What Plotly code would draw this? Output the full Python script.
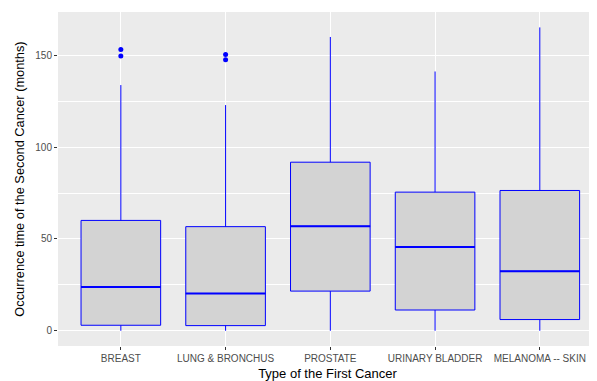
import plotly.graph_objects as go

categories = ["BREAST", "LUNG & BRONCHUS", "PROSTATE", "URINARY BLADDER", "MELANOMA -- SKIN"]
q1 = [3.0, 2.8, 21.6, 11.3, 6.1]
median = [23.9, 20.3, 56.9, 45.6, 32.4]
q3 = [60.1, 56.7, 91.8, 75.5, 76.4]
lower_whisker = [0, 0, 0, 0, 0]
upper_whisker = [133.8, 122.9, 160.0, 141.2, 165.2]
outlier_cat = ["BREAST", "BREAST", "LUNG & BRONCHUS", "LUNG & BRONCHUS"]
outlier_val = [153.2, 149.6, 150.5, 147.6]

pos = list(range(len(categories)))
box_w = 0.76

fig = go.Figure()
fig.add_trace(go.Box(
    x=pos, q1=q1, median=median, q3=q3,
    lowerfence=lower_whisker, upperfence=upper_whisker,
    fillcolor="#D3D3D3", line=dict(color="blue", width=1),
    width=box_w, whiskerwidth=0, boxpoints=False, showlegend=False, hoverinfo="skip",
))
# thicker median segments (ggplot style)
mx, my = [], []
for i, m in zip(pos, median):
    mx += [i - box_w / 2, i + box_w / 2, None]
    my += [m, m, None]
fig.add_trace(go.Scatter(x=mx, y=my, mode="lines", line=dict(color="blue", width=2),
                         showlegend=False, hoverinfo="skip"))
fig.add_trace(go.Scatter(
    x=[categories.index(c) for c in outlier_cat], y=outlier_val, mode="markers",
    marker=dict(color="blue", size=5), showlegend=False, hoverinfo="skip"))

font = "Liberation Sans, Arial, sans-serif"
fig.update_layout(
    width=589, height=373,
    margin=dict(l=50, r=0, t=4, b=35, autoexpand=False),
    paper_bgcolor="white", plot_bgcolor="#EBEBEB",
    font=dict(family=font),
    xaxis=dict(
        range=[-0.6, 4.546], tickmode="array", tickvals=pos, ticktext=categories,
        showgrid=True, gridcolor="white", gridwidth=1.1, zeroline=False,
        ticks="outside", ticklen=3, tickcolor="#333333", tickwidth=1,
        tickfont=dict(size=10, color="#4D4D4D", family=font),
        title=dict(text="Type of the First Cancer", font=dict(size=13, color="black", family=font), standoff=5),
        showline=False, automargin=False,
    ),
    yaxis=dict(
        range=[-8.3, 173.6], tickmode="array", tickvals=[0, 50, 100, 150],
        showgrid=True, gridcolor="white", gridwidth=1.1, zeroline=False,
        minor=dict(tickmode="array", tickvals=[25, 75, 125], showgrid=True, gridcolor="white", gridwidth=0.55, ticks=""),
        ticks="outside", ticklen=3, tickcolor="#333333", tickwidth=1,
        tickfont=dict(size=10, color="#4D4D4D", family=font),
        title=dict(text="Occurrence time of the Second Cancer (months)", font=dict(size=12.8, color="black", family=font), standoff=7),
        showline=False, automargin=False,
    ),
)
fig.write_html("out.html")
